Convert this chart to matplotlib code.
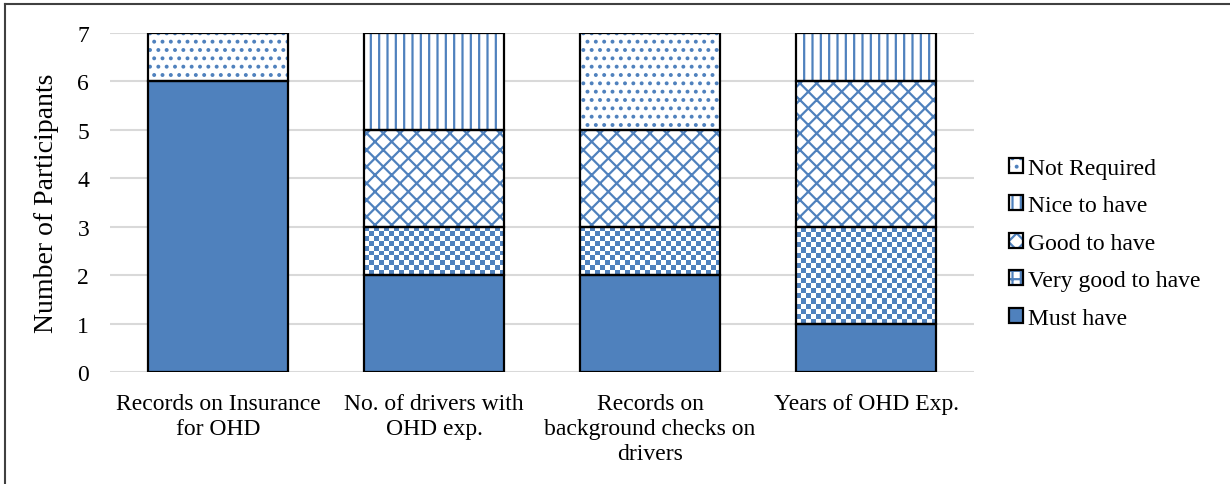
import matplotlib
matplotlib.use('Agg')
import matplotlib.pyplot as plt
import numpy as np
from matplotlib.patches import Patch
from matplotlib.colors import ListedColormap
from matplotlib.legend_handler import HandlerTuple
from matplotlib.lines import Line2D

plt.rcParams['font.family'] = ['Liberation Serif', 'DejaVu Serif']
plt.rcParams['hatch.linewidth'] = 1.6

categories = ['Records on Insurance\nfor OHD', 'No. of drivers with\nOHD exp.',
              'Records on\nbackground checks on\ndrivers', 'Years of OHD Exp.']
levels = ['Must have', 'Very good to have', 'Good to have', 'Nice to have', 'Not Required']
must_have = [6, 2, 2, 1]
very_good = [0, 1, 1, 2]
good = [0, 2, 2, 3]
nice = [0, 2, 0, 1]
not_required = [1, 0, 2, 0]

blue = '#4F81BD'
# 'check' is drawn as an image, the others as hatches
fills = ['solid', 'check', 'xx', '||', '..']
series = [must_have, very_good, good, nice, not_required]

fig = plt.figure(figsize=(12.3, 4.85), dpi=100)
ax = fig.add_axes([0.0894, 0.231, 0.7026, 0.699])
ax.set_xlim(-0.5, len(categories) - 0.5)
ax.set_ylim(0, 7)

x = np.arange(len(categories))
w = 0.65
checker_cmap = ListedColormap(['white', blue])
bottom = np.zeros(len(categories))
for vals, f in zip(series, fills):
    vals = np.array(vals, dtype=float)
    if f == 'solid':
        ax.bar(x, vals, w, bottom=bottom, color=blue, lw=0, zorder=2)
    elif f == 'check':
        for xi, b, v in zip(x, bottom, vals):
            if v <= 0:
                continue
            p0 = ax.transData.transform((xi - w / 2, b))
            p1 = ax.transData.transform((xi + w / 2, b + v))
            nc = max(int(round((p1[0] - p0[0]) / 5)), 1)
            nr = max(int(round((p1[1] - p0[1]) / 5)), 1)
            ii, jj = np.indices((nr, nc))
            ax.imshow((ii + jj) % 2, cmap=checker_cmap, interpolation='nearest',
                      extent=(xi - w / 2, xi + w / 2, b, b + v), origin='lower',
                      aspect='auto', zorder=2)
    else:
        ax.bar(x, vals, w, bottom=bottom, facecolor='white', edgecolor=blue,
               hatch=f, lw=0, zorder=2)
    # black outline on each segment
    mask = vals > 0
    ax.bar(x[mask], vals[mask], w, bottom=bottom[mask], facecolor='none',
           edgecolor='black', lw=1.6, zorder=3)
    bottom += vals

ax.set_xlim(-0.5, len(categories) - 0.5)
ax.set_ylim(0, 7)
ax.set_aspect('auto')
ax.set_yticks(range(8))
ax.yaxis.grid(True, color='#d9d9d9', lw=1.5, zorder=0)
ax.set_axisbelow(True)
for s in ax.spines.values():
    s.set_visible(False)
ax.tick_params(length=0, labelsize=17)
ax.tick_params(axis='y', pad=15)
ax.tick_params(axis='x', pad=15)
ax.set_xticks(x)
ax.set_xticklabels(categories, linespacing=1.25)
ax.set_ylabel('Number of Participants', fontsize=20, labelpad=13)

# legend swatches: fill layer plus black box
handles = []
for f in fills[::-1]:
    if f == 'solid':
        inner = Patch(facecolor=blue, lw=0)
    elif f == 'check':
        inner = Patch(facecolor='white', edgecolor=blue, hatch='++', lw=0)
    else:
        inner = Patch(facecolor='white', edgecolor=blue, hatch=f, lw=0)
    box = Patch(facecolor='none', edgecolor='black', lw=1.6)
    handles.append((inner, box))
ax.legend(handles, levels[::-1], handler_map={tuple: HandlerTuple(ndivide=1)},
          loc='center left', bbox_to_anchor=(1.016, 0.38), frameon=False,
          fontsize=17, handlelength=0.6, handleheight=0.6, handletextpad=0.2,
          labelspacing=0.7)

# outer frame
fig.add_artist(Line2D([0.004, 0.004], [0, 0.99], transform=fig.transFigure, color='#404040', lw=1.5))
fig.add_artist(Line2D([0.004, 1.0], [0.99, 0.99], transform=fig.transFigure, color='#404040', lw=1.5))

fig.savefig('out.png', dpi=100)
